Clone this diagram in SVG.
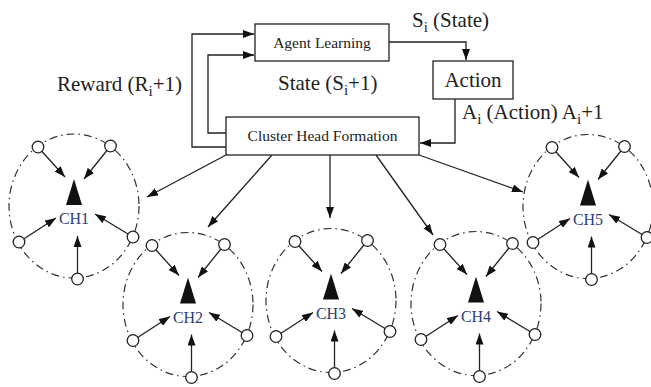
<svg xmlns="http://www.w3.org/2000/svg" width="651" height="387" viewBox="0 0 651 387">
<style>
.box{fill:#fff;stroke:#222;stroke-width:1.3}
.ln{fill:none;stroke:#222;stroke-width:1.3;marker-end:url(#ah)}
.t{font-family:"Liberation Serif",serif;fill:#222}
.big{font-size:21px}
.sm{font-size:15.5px}
.sub{font-size:15px}
.cl{fill:none;stroke:#333;stroke-width:1.2;stroke-dasharray:8 4 1.5 4}
.nd{fill:#fff;stroke:#222;stroke-width:1.3}
.tri{fill:#111}
.ch{font-family:"Liberation Serif",serif;font-size:16px;fill:#2b3f73;text-anchor:middle}
</style>
<defs>
<marker id="ah" markerUnits="userSpaceOnUse" markerWidth="11" markerHeight="8" refX="11" refY="4" orient="auto">
<path d="M0,0 L11,4 L0,8 z" fill="#111"/>
</marker>
</defs>

<g id="connectors">
<polyline class="ln" points="226,147 192,147 192,34 254,34"/>
<polyline class="ln" points="226,133 208,133 208,55 254,55"/>
<polyline class="ln" points="389,42 466,42 466,60"/>
<polyline class="ln" points="455,99 455,143 420,143"/>
<line class="ln" x1="226" y1="155" x2="147" y2="197"/>
<line class="ln" x1="272" y1="155" x2="208" y2="227"/>
<line class="ln" x1="330" y1="155" x2="330" y2="218"/>
<line class="ln" x1="376" y1="155" x2="433" y2="235"/>
<line class="ln" x1="419" y1="155" x2="523" y2="192"/>
</g>

<g id="agent-learning">
<rect class="box" x="255" y="24" width="134" height="37"/>
<text class="t sm" font-family="Liberation Serif, serif" x="322" y="48" text-anchor="middle">Agent Learning</text>
</g>
<g id="action">
<rect class="box" x="433" y="61" width="80" height="38"/>
<text class="t big" font-family="Liberation Serif, serif" x="473" y="87" text-anchor="middle">Action</text>
</g>
<g id="cluster-head-formation">
<rect class="box" x="226" y="117" width="193" height="38"/>
<text class="t sm" font-family="Liberation Serif, serif" x="322.5" y="141" text-anchor="middle">Cluster Head Formation</text>
</g>

<g id="labels" font-family="Liberation Serif, serif">
<text class="t big" x="57" y="91">Reward (R<tspan class="sub" dy="5">i</tspan><tspan dy="-5">+1)</tspan></text>
<text class="t big" x="278" y="90">State (S<tspan class="sub" dy="5">i</tspan><tspan dy="-5">+1)</tspan></text>
<text class="t big" x="412" y="27">S<tspan class="sub" dy="5">i</tspan><tspan dy="-5"> (State)</tspan></text>
<text class="t big" x="462" y="119">A<tspan class="sub" dy="5">i</tspan><tspan dy="-5"> (Action) A</tspan><tspan class="sub" dy="5">i</tspan><tspan dy="-5">+1</tspan></text>
</g>

<g id="ch1" transform="translate(74,206)">
<ellipse class="cl" cx="0" cy="0" rx="65" ry="72"/>
<line class="ln" x1="-36" y1="-59" x2="-9" y2="-29"/>
<line class="ln" x1="36.5" y1="-60" x2="10" y2="-27"/>
<line class="ln" x1="-55" y1="36" x2="-18" y2="12"/>
<line class="ln" x1="59" y1="31" x2="21" y2="8"/>
<line class="ln" x1="3.5" y1="73" x2="3.5" y2="30"/>
<circle class="nd" cx="-36" cy="-59" r="5.8"/>
<circle class="nd" cx="36.5" cy="-60" r="5.8"/>
<circle class="nd" cx="-55" cy="36" r="5.8"/>
<circle class="nd" cx="59" cy="31" r="5.8"/>
<circle class="nd" cx="3.5" cy="73" r="5.8"/>
<path class="tri" d="M0,-27 L8,-1 L-8,-1 z"/>
<text class="ch" x="0" y="18">CH1</text>
</g>

<g id="ch2" transform="translate(188,304.5)">
<ellipse class="cl" cx="0" cy="0" rx="65" ry="72"/>
<line class="ln" x1="-36" y1="-59" x2="-9" y2="-29"/>
<line class="ln" x1="36.5" y1="-60" x2="10" y2="-27"/>
<line class="ln" x1="-55" y1="36" x2="-18" y2="12"/>
<line class="ln" x1="59" y1="31" x2="21" y2="8"/>
<line class="ln" x1="3.5" y1="73" x2="3.5" y2="30"/>
<circle class="nd" cx="-36" cy="-59" r="5.8"/>
<circle class="nd" cx="36.5" cy="-60" r="5.8"/>
<circle class="nd" cx="-55" cy="36" r="5.8"/>
<circle class="nd" cx="59" cy="31" r="5.8"/>
<circle class="nd" cx="3.5" cy="73" r="5.8"/>
<path class="tri" d="M0,-27 L8,-1 L-8,-1 z"/>
<text class="ch" x="0" y="18">CH2</text>
</g>

<g id="ch3" transform="translate(331,300.5)">
<ellipse class="cl" cx="0" cy="0" rx="65" ry="72"/>
<line class="ln" x1="-36" y1="-59" x2="-9" y2="-29"/>
<line class="ln" x1="36.5" y1="-60" x2="10" y2="-27"/>
<line class="ln" x1="-55" y1="36" x2="-18" y2="12"/>
<line class="ln" x1="59" y1="31" x2="21" y2="8"/>
<line class="ln" x1="3.5" y1="73" x2="3.5" y2="30"/>
<circle class="nd" cx="-36" cy="-59" r="5.8"/>
<circle class="nd" cx="36.5" cy="-60" r="5.8"/>
<circle class="nd" cx="-55" cy="36" r="5.8"/>
<circle class="nd" cx="59" cy="31" r="5.8"/>
<circle class="nd" cx="3.5" cy="73" r="5.8"/>
<path class="tri" d="M0,-27 L8,-1 L-8,-1 z"/>
<text class="ch" x="0" y="18">CH3</text>
</g>

<g id="ch4" transform="translate(476,303.5)">
<ellipse class="cl" cx="0" cy="0" rx="65" ry="72"/>
<line class="ln" x1="-36" y1="-59" x2="-9" y2="-29"/>
<line class="ln" x1="36.5" y1="-60" x2="10" y2="-27"/>
<line class="ln" x1="-55" y1="36" x2="-18" y2="12"/>
<line class="ln" x1="59" y1="31" x2="21" y2="8"/>
<line class="ln" x1="3.5" y1="73" x2="3.5" y2="30"/>
<circle class="nd" cx="-36" cy="-59" r="5.8"/>
<circle class="nd" cx="36.5" cy="-60" r="5.8"/>
<circle class="nd" cx="-55" cy="36" r="5.8"/>
<circle class="nd" cx="59" cy="31" r="5.8"/>
<circle class="nd" cx="3.5" cy="73" r="5.8"/>
<path class="tri" d="M0,-27 L8,-1 L-8,-1 z"/>
<text class="ch" x="0" y="18">CH4</text>
</g>

<g id="ch5" transform="translate(588,206.5)">
<ellipse class="cl" cx="0" cy="0" rx="65" ry="72"/>
<line class="ln" x1="-36" y1="-59" x2="-9" y2="-29"/>
<line class="ln" x1="36.5" y1="-60" x2="10" y2="-27"/>
<line class="ln" x1="-55" y1="36" x2="-18" y2="12"/>
<line class="ln" x1="59" y1="31" x2="21" y2="8"/>
<line class="ln" x1="3.5" y1="73" x2="3.5" y2="30"/>
<circle class="nd" cx="-36" cy="-59" r="5.8"/>
<circle class="nd" cx="36.5" cy="-60" r="5.8"/>
<circle class="nd" cx="-55" cy="36" r="5.8"/>
<circle class="nd" cx="59" cy="31" r="5.8"/>
<circle class="nd" cx="3.5" cy="73" r="5.8"/>
<path class="tri" d="M0,-27 L8,-1 L-8,-1 z"/>
<text class="ch" x="0" y="18">CH5</text>
</g>
</svg>
